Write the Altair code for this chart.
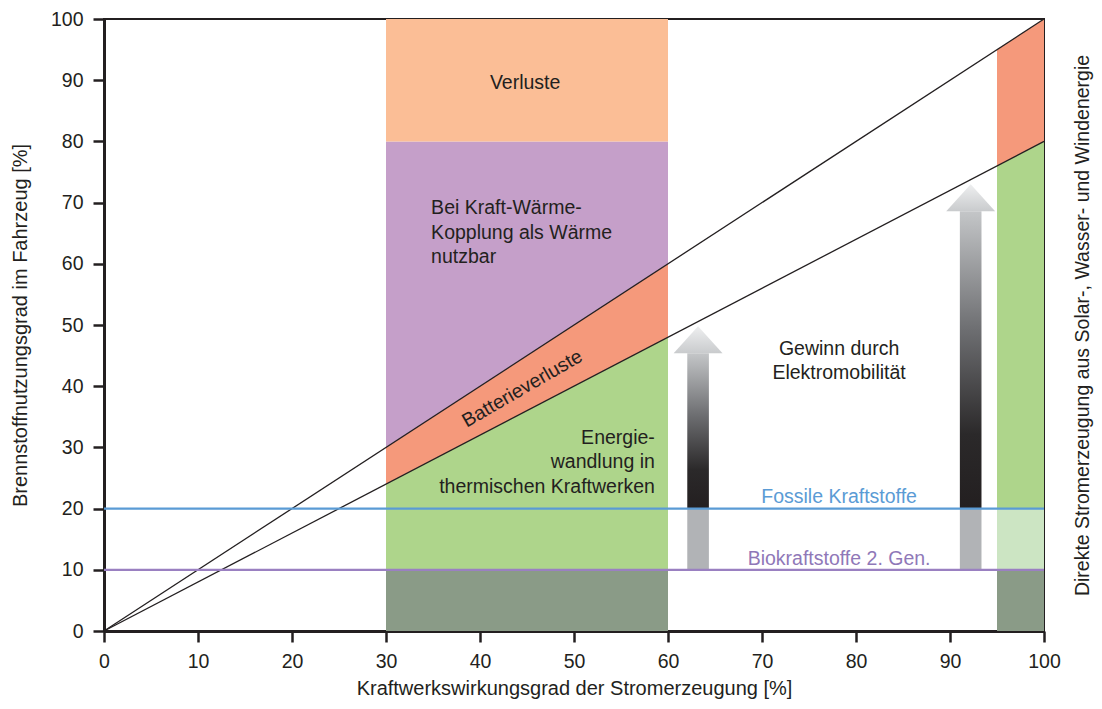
import altair as alt
import pandas as pd

FONT = "Liberation Sans"
INK = "#231F20"

# ---------------- data ----------------
axis_ticks = [0, 10, 20, 30, 40, 50, 60, 70, 80, 90, 100]

diag_x = [0, 100]
diag_ideal = [0, 100]      # Brennstoffnutzung ohne Batterieverluste
diag_real = [0, 80]        # mit Batterieverlusten

kwk_x = [30, 60]
kwk_bounds = [[0, 0], [10, 10], [24, 48], [30, 60], [80, 80], [100, 100]]
kwk_parts = ["Basis", "Wandlung", "Batterie", "Wärme", "Verluste"]

direkt_x = [95, 100]
direkt_bounds = [[0, 0], [10, 10], [20, 20], [76, 80], [95, 100]]
direkt_parts = ["Basis", "Fossil", "Wandlung", "Batterie"]

part_names = ["Basis", "Fossil", "Wandlung", "Batterie", "Wärme", "Verluste"]
part_colors = ["#8A9B87", "#CCE5C3", "#AED58B", "#F5997B", "#C59FC9", "#FBBE96"]

fossil_level = 20
bio_level = 10

arrow_ids = ["a1", "a2"]
arrow_x = [63.2, 92.2]
arrow_tip = [49.8, 73.0]
arrow_head_base = [45.4, 68.6]
arrow_foot = [10, 10]
arrow_mid = [20, 20]
shaft_half = 1.15
head_half = 2.6

# ---------------- tables ----------------
area_rows = []
for block, xs_, bounds, parts in [("kwk", kwk_x, kwk_bounds, kwk_parts),
                                  ("direkt", direkt_x, direkt_bounds, direkt_parts)]:
    for i, part in enumerate(parts):
        for j, xv in enumerate(xs_):
            area_rows.append({"id": f"{block}-{part}", "part": part, "x": xv,
                              "y": bounds[i][j], "y2": bounds[i + 1][j]})
areas = pd.DataFrame(area_rows)

diag = pd.DataFrame({"x": diag_x * 2,
                     "y": diag_ideal + diag_real,
                     "line": ["ideal"] * 2 + ["real"] * 2})

hl = pd.DataFrame({"x": [0, 100], "fossil": [fossil_level] * 2, "bio": [bio_level] * 2})

shaft_dark = pd.DataFrame({"x": [a - shaft_half for a in arrow_x],
                           "x2": [a + shaft_half for a in arrow_x],
                           "y": arrow_mid, "y2": arrow_head_base})
shaft_gray = pd.DataFrame({"x": [a - shaft_half for a in arrow_x],
                           "x2": [a + shaft_half for a in arrow_x],
                           "y": arrow_foot, "y2": arrow_mid})
head_rows = []
for aid, ax, tip, base in zip(arrow_ids, arrow_x, arrow_tip, arrow_head_base):
    head_rows += [{"id": aid, "x": ax - head_half, "y": base, "y2": base},
                  {"id": aid, "x": ax, "y": tip, "y2": base},
                  {"id": aid, "x": ax + head_half, "y": base, "y2": base}]
heads = pd.DataFrame(head_rows)

center_labels = pd.DataFrame({"x": [44.8, 78.2], "y": [89.5, 46.1],
                              "t": ["Verluste", "Gewinn durch\nElektromobilität"]})
left_labels = pd.DataFrame({"x": [34.8], "y": [69.05],
                            "t": ["Bei Kraft-Wärme-\nKopplung als Wärme\nnutzbar"]})
right_labels = pd.DataFrame({"x": [58.6], "y": [31.6],
                             "t": ["Energie-\nwandlung in\nthermischen Kraftwerken"]})
rot_labels = pd.DataFrame({"x": [44.5], "y": [39.6], "t": ["Batterieverluste"]})
fossil_label = pd.DataFrame({"x": [78.2], "y": [21.9], "t": ["Fossile Kraftstoffe"]})
bio_label = pd.DataFrame({"x": [78.2], "y": [11.8], "t": ["Biokraftstoffe 2. Gen."]})

# ---------------- encodings ----------------
xs = alt.Scale(domain=[0, 100], nice=False, zero=False)
ys = alt.Scale(domain=[0, 100], nice=False, zero=False)

x_axis_def = alt.Axis(values=axis_ticks,
                      title="Kraftwerkswirkungsgrad der Stromerzeugung [%]",
                      labelPadding=10, titlePadding=8, labelFlush=False)


def X(field="x"):
    return alt.X(f"{field}:Q", scale=xs, axis=x_axis_def)


def Y(field="y"):
    return alt.Y(f"{field}:Q", scale=ys, axis=None)


y_axis = alt.Y("y:Q", scale=ys, axis=alt.Axis(
    values=axis_ticks, title="Brennstoffnutzungsgrad im Fahrzeug [%]",
    labelPadding=10, titlePadding=20, labelFlush=False))
y_right = alt.Y("y:Q", scale=ys, axis=alt.Axis(
    orient="right", labels=False, ticks=False, domain=False,
    title="Direkte Stromerzeugung aus Solar-, Wasser- und Windenergie",
    titleAngle=270, titleBaseline="top", titlePadding=29, titleFontSize=19.5))

part_scale = alt.Scale(domain=part_names, range=part_colors)

fill_layer = alt.Chart(areas).mark_area(interpolate="linear").encode(
    x=X(), y=y_axis, y2="y2:Q",
    color=alt.Color("part:N", scale=part_scale, legend=None),
    detail="id:N")

shaft_grad = alt.LinearGradient(
    gradient="linear", x1=0, x2=0, y1=1, y2=0,
    stops=[alt.GradientStop(color="#231F20", offset=0),
           alt.GradientStop(color="#2B292A", offset=0.25),
           alt.GradientStop(color="#6D6E71", offset=0.6),
           alt.GradientStop(color="#C4C6C8", offset=1)])
head_grad = alt.LinearGradient(
    gradient="linear", x1=0, x2=0, y1=1, y2=0,
    stops=[alt.GradientStop(color="#C9CBCD", offset=0),
           alt.GradientStop(color="#EEEFF0", offset=1)])

shaft_d = alt.Chart(shaft_dark).mark_rect(fill=shaft_grad).encode(
    x=X(), x2="x2:Q", y=Y(), y2="y2:Q")
shaft_g = alt.Chart(shaft_gray).mark_rect(color="#B1B3B6").encode(
    x=X(), x2="x2:Q", y=Y(), y2="y2:Q")
head_l = alt.Chart(heads).mark_area(fill=head_grad, interpolate="linear").encode(
    x=X(), y=Y(), y2="y2:Q", detail="id:N")

diag_l = alt.Chart(diag).mark_line(color=INK, strokeWidth=1.3).encode(
    x=X(), y=y_right, detail="line:N")

fossil_l = alt.Chart(hl).mark_line(color="#5A9BD5", strokeWidth=2.2).encode(
    x=X(), y=Y("fossil"))
bio_l = alt.Chart(hl).mark_line(color="#9A80C1", strokeWidth=2.2).encode(
    x=X(), y=Y("bio"))

txt_common = dict(font=FONT, fontSize=19.5, lineHeight=24.5, baseline="middle", lineBreak="\n")
t_center = alt.Chart(center_labels).mark_text(align="center", color=INK, **txt_common).encode(
    x=X(), y=Y(), text="t:N")
t_left = alt.Chart(left_labels).mark_text(align="left", color=INK, **txt_common).encode(
    x=X(), y=Y(), text="t:N")
t_right = alt.Chart(right_labels).mark_text(align="right", color=INK, **txt_common).encode(
    x=X(), y=Y(), text="t:N")
t_rot = alt.Chart(rot_labels).mark_text(align="center", color=INK, angle=330, **txt_common).encode(
    x=X(), y=Y(), text="t:N")
t_fossil = alt.Chart(fossil_label).mark_text(align="center", color="#5A9BD5", **txt_common).encode(
    x=X(), y=Y(), text="t:N")
t_bio = alt.Chart(bio_label).mark_text(align="center", color="#8F78B8", **txt_common).encode(
    x=X(), y=Y(), text="t:N")

chart = alt.layer(
    fill_layer, shaft_g, shaft_d, head_l, diag_l, fossil_l, bio_l,
    t_center, t_left, t_right, t_rot, t_fossil, t_bio
).resolve_scale(y="shared").resolve_axis(y="independent").properties(
    width=940, height=612,
    autosize=alt.AutoSizeParams(type="none"),
    padding={"left": 96, "top": 11, "right": 50, "bottom": 70},
).configure_axis(
    labelFont=FONT, titleFont=FONT, labelFontSize=19.5, titleFontSize=20,
    labelColor=INK, titleColor=INK, titleFontWeight="normal",
    domainColor=INK, domainWidth=3, tickColor=INK, tickWidth=2.5, tickSize=11,
    grid=False,
).configure_view(stroke=INK, strokeWidth=2)

chart.save("out.html", embed_options={"renderer": "svg", "actions": False})
